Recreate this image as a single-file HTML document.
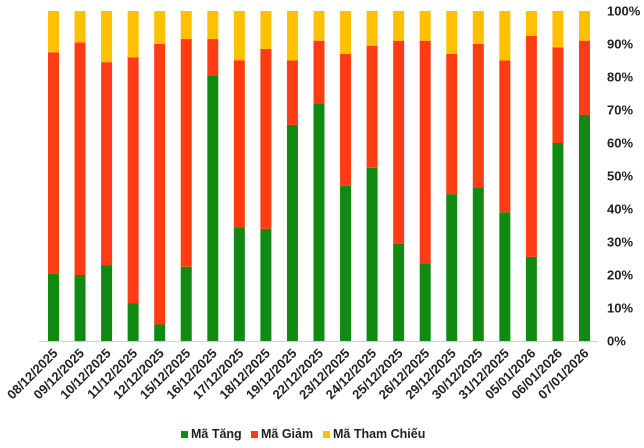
<!DOCTYPE html>
<html><head><meta charset="utf-8"><style>
body{margin:0;background:#fff}
svg text{font-family:"Liberation Sans",sans-serif;font-weight:bold;fill:#222}
</style></head><body>
<svg width="644" height="443" xmlns="http://www.w3.org/2000/svg">
<g id="bars"></g>
<line x1="39" y1="341.5" x2="598" y2="341.5" stroke="#d0d0d0" stroke-width="1"/>
<g font-size="13" id="yl"></g>
<g font-size="13" id="xl"></g>
<g font-size="12.5">
<rect x="181" y="431" width="7" height="7" fill="#118a12"/><text x="191" y="438">Mã Tăng</text>
<rect x="251" y="431" width="7" height="7" fill="#ff3c14"/><text x="261" y="438">Mã Giảm</text>
<rect x="323" y="431" width="7" height="7" fill="#ffc000"/><text x="333" y="438">Mã Tham Chiếu</text>
</g>
<script>
var d=[[20.5,87.5],[20,90.5],[23,84.5],[11.5,86],[5,90],[22.5,91.5],[80.5,91.5],[34.5,85],[34,88.5],[65.5,85],[72,91],[47,87],[52.5,89.5],[29.5,91],[23.5,91],[44.5,87],[46.5,90],[39,85],[25.5,92.5],[60,89],[68.5,91]];
var lab=["08/12/2025","09/12/2025","10/12/2025","11/12/2025","12/12/2025","15/12/2025","16/12/2025","17/12/2025","18/12/2025","19/12/2025","22/12/2025","23/12/2025","24/12/2025","25/12/2025","26/12/2025","29/12/2025","30/12/2025","31/12/2025","05/01/2026","06/01/2026","07/01/2026"];
var ns="http://www.w3.org/2000/svg",B=document.getElementById("bars"),X=document.getElementById("xl"),Y=document.getElementById("yl");
function y(v){return 341-v*3.3}
function r(x,a,b,c){var e=document.createElementNS(ns,"rect");e.setAttribute("x",x);e.setAttribute("y",y(b));e.setAttribute("width",11);e.setAttribute("height",y(a)-y(b));e.setAttribute("fill",c);B.appendChild(e)}
d.forEach(function(v,i){var cx=53.5+26.55*i,x=cx-5.5;r(x,0,v[0],"#118a12");r(x,v[0],v[1],"#ff3c14");r(x,v[1],100,"#ffc000");
var t=document.createElementNS(ns,"text");t.setAttribute("text-anchor","end");t.setAttribute("transform","translate("+(cx+5)+",354) rotate(-45)");t.textContent=lab[i];X.appendChild(t)});
for(var k=0;k<=10;k++){var t=document.createElementNS(ns,"text");t.setAttribute("x",607);t.setAttribute("y",y(k*10)+4.5);t.textContent=(k*10)+"%";Y.appendChild(t)}
</script>
</svg>
</body></html>
